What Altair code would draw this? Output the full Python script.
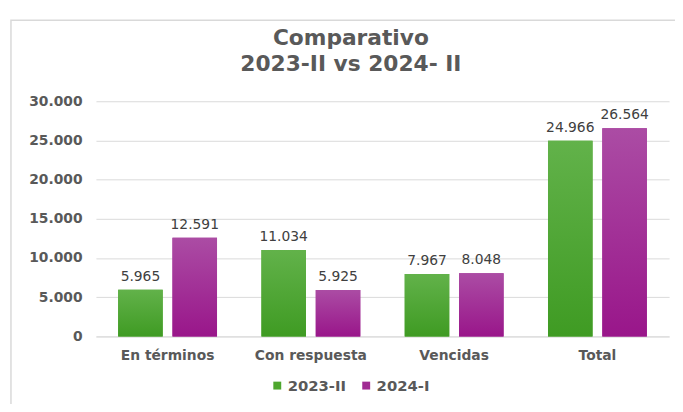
import altair as alt
import pandas as pd

categorias = ["En términos", "Con respuesta", "Vencidas", "Total"]
serie_2023 = [5965, 11034, 7967, 24966]
serie_2024 = [12591, 5925, 8048, 26564]
series = ["2023-II", "2024-I"]

rows = []
for c, a, b in zip(categorias, serie_2023, serie_2024):
    rows.append({"categoria": c, "serie": series[0], "valor": a})
    rows.append({"categoria": c, "serie": series[1], "valor": b})
df = pd.DataFrame(rows)

FONT = "DejaVu Sans"
GREEN = "#4ea72e"
MAGENTA = "#a02b93"

x_enc = alt.X("categoria:N", sort=categorias, title=None,
              scale=alt.Scale(paddingInner=0.31, paddingOuter=0.155),
              axis=alt.Axis(labelAngle=0, labelFont=FONT, labelFontSize=14,
                            labelFontWeight="bold", labelColor="#595959",
                            labelPadding=12, ticks=False, domainColor="#d9d9d9",
                            grid=False))
xo_enc = alt.XOffset("serie:N", scale=alt.Scale(domain=series, paddingInner=0.18))
y_enc = alt.Y("valor:Q", title=None,
              scale=alt.Scale(domain=[0, 30000]),
              axis=alt.Axis(values=[0, 5000, 10000, 15000, 20000, 25000, 30000],
                            labelExpr="replace(format(datum.value, ','), ',', '.')",
                            labelFont=FONT, labelFontSize=14, labelFontWeight="bold",
                            labelColor="#595959", labelPadding=14, ticks=False,
                            domain=False, gridColor="#d9d9d9", gridWidth=1))

base = alt.Chart(df)

solid = base.mark_bar().encode(
    x=x_enc, xOffset=xo_enc, y=y_enc,
    color=alt.Color("serie:N", scale=alt.Scale(domain=series, range=[GREEN, MAGENTA]),
                    legend=alt.Legend(title=None, orient="none", legendX=176, legendY=280,
                                      direction="horizontal", symbolType="square",
                                      symbolSize=64, labelFont=FONT, labelFontSize=15,
                                      labelFontWeight="bold", labelColor="#595959",
                                      labelOffset=3, columnPadding=12, symbolStrokeWidth=0)),
)

def grad(top, bottom):
    return alt.Gradient(gradient="linear",
                        stops=[alt.GradientStop(color=top, offset=0),
                               alt.GradientStop(color=bottom, offset=1)],
                        x1=0, x2=0, y1=0, y2=1)

g_green = base.mark_bar(fill=grad("#62b24a", "#3f9b23")).encode(
    x=x_enc, xOffset=xo_enc, y=y_enc).transform_filter(alt.datum.serie == series[0])
g_mag = base.mark_bar(fill=grad("#ab4ca4", "#99168a")).encode(
    x=x_enc, xOffset=xo_enc, y=y_enc).transform_filter(alt.datum.serie == series[1])

labels = base.transform_calculate(
    etiqueta="replace(format(datum.valor, ','), ',', '.')"
).mark_text(font=FONT, fontSize=14, color="#404040", baseline="bottom", dy=-6).encode(
    x=x_enc, xOffset=xo_enc, y=y_enc, text="etiqueta:N")

frame = alt.Chart(pd.DataFrame({"k": [0]})).mark_rect(
    fill=None, stroke="#d9d9d9", strokeWidth=1.5
).encode(x=alt.value(-86), x2=alt.value(700), y=alt.value(-82), y2=alt.value(400))

chart = alt.layer(frame, solid, g_green, g_mag, labels).properties(
    width=580, height=238,
    title=alt.TitleParams(["Comparativo", "2023-II vs 2024- II"], anchor="middle",
                          dx=-32, offset=-57, font=FONT, fontSize=22, fontWeight="bold",
                          color="#595959", lineHeight=26),
    autosize=alt.AutoSizeParams(type="none"),
    padding={"left": 89, "top": 92, "right": 6, "bottom": 66},
).configure_view(stroke=None)

chart.save("out.html", embed_options={"renderer": "svg", "actions": False})
